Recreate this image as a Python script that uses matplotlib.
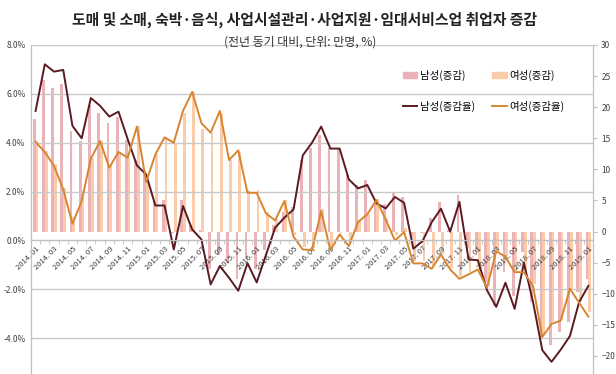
import numpy as np
import matplotlib.pyplot as plt
from matplotlib.patches import Patch
from matplotlib.lines import Line2D

plt.rcParams['font.family'] = ['Noto Sans CJK KR', 'DejaVu Sans']

# 2014.01 ~ 2019.01, monthly
months = [f"{y}. {m:02d}" for y in range(2014, 2019) for m in range(1, 13)] + ["2019. 01"]

# 증감 (만명) - right axis
male_chg = [18.1, 24.4, 23.1, 23.7, 16.1, 14.5, 20.4, 19.0, 17.5, 18.4,
            14.7, 11.5, 9.9, 5.1, 5.1, -0.3, 5.1, 1.0, 0.2, -6.0,
            -3.8, -5.0, -7.6, -4.4, -6.0, -3.0, 1.0, 3.2, 4.0, 11.5,
            13.4, 15.5, 13.4, 13.4, 9.1, 7.5, 8.3, 5.3, 4.5, 6.4,
            5.6, -1.1, -0.3, 2.1, 4.8, 0.2, 5.9, -2.7, -3.3, -8.1,
            -11.9, -6.5, -10.3, -3.3, -11.3, -17.3, -18.3, -16.2, -14.6, -9.7,
            -7.6]
female_chg = [14.5, 13.0, 10.8, 7.0, 2.3, 5.5, 11.8, 14.6, 10.5, 12.8,
              12.0, 17.0, 8.2, 12.5, 15.2, 14.3, 19.0, 22.5, 16.5, 15.8,
              19.0, 11.5, 12.8, 6.7, 6.7, 3.2, 2.0, 5.0, -0.6, -2.5,
              -2.6, 3.6, -2.6, -0.3, -1.8, 1.8, 2.9, 5.3, 2.1, -0.6,
              0.5, -4.8, -4.8, -5.6, -3.6, -5.8, -7.2, -6.5, -5.8, -8.8,
              -3.0, -3.9, -6.3, -6.3, -8.5, -16.5, -14.6, -14.2, -9.2, -11.4,
              -13.0]

# 증감율 (%) - left axis
male_rate = [5.30, 7.21, 6.91, 6.98, 4.69, 4.18, 5.83, 5.51, 5.07, 5.27,
             4.14, 3.07, 2.70, 1.43, 1.43, -0.37, 1.41, 0.45, 0.04, -1.80,
             -1.05, -1.53, -2.06, -0.93, -1.72, -0.60, 0.52, 0.93, 1.27, 3.48,
             4.00, 4.66, 3.76, 3.76, 2.50, 2.13, 2.27, 1.52, 1.31, 1.78,
             1.54, -0.34, -0.03, 0.75, 1.30, 0.36, 1.58, -0.78, -0.81, -2.04,
             -2.72, -1.73, -2.80, -0.92, -2.53, -4.49, -4.97, -4.47, -3.91, -2.52,
             -1.86]
female_rate = [4.03, 3.62, 3.05, 2.09, 0.68, 1.61, 3.35, 4.07, 2.98, 3.62,
               3.39, 4.66, 2.39, 3.52, 4.22, 4.00, 5.30, 6.08, 4.80, 4.41,
               5.30, 3.29, 3.69, 1.95, 1.95, 1.11, 0.82, 1.61, 0.15, -0.37,
               -0.40, 1.20, -0.40, 0.25, -0.23, 0.75, 1.07, 1.65, 0.86, 0.00,
               0.34, -0.94, -0.94, -1.16, -0.57, -1.19, -1.57, -1.39, -1.19, -1.94,
               -0.44, -0.67, -1.30, -1.30, -1.87, -3.95, -3.42, -3.28, -1.98, -2.55,
               -3.12]

x = np.arange(len(months))

fig = plt.figure(figsize=(6.16, 3.74), dpi=100)
# plot area runs past the bottom edge (chart is cropped there)
ax = fig.add_axes([0.0503, -0.0348, 0.9123, 0.9145])
ax2 = ax.twinx()
ax.set_zorder(ax2.get_zorder() + 1)
ax.patch.set_visible(False)

w = 0.3
ax2.bar(x - w / 2, male_chg, w, color='#EBB3B7', linewidth=0)
ax2.bar(x + w / 2, female_chg, w, color='#FBCBAA', linewidth=0)

ax.plot(x, male_rate, color='#5A1A22', lw=1.4)
ax.plot(x, female_rate, color='#D8852F', lw=1.4)

ax.set_xlim(-0.5, len(months) - 0.5)
ax.set_ylim(-6, 8)
ax2.set_ylim(-25, 30)

lticks = np.arange(-4, 8.1, 2)
ax.set_yticks(lticks)
ax.set_yticklabels([f"{v:.1f}%" for v in lticks])
ax2.set_yticks(np.arange(-20, 31, 5))
ax.yaxis.grid(True, color='#C9C9C9', lw=1)

gray = '#BFBFBF'
for a in (ax, ax2):
    a.spines['top'].set_visible(False)
    a.spines['left'].set_color(gray)
    a.spines['right'].set_color(gray)
ax.spines['bottom'].set_position(('data', 0))
ax.spines['bottom'].set_color(gray)
ax2.spines['bottom'].set_visible(False)

ax.tick_params(axis='y', length=0, labelsize=6, labelcolor='#404040', pad=4)
ax2.tick_params(axis='y', length=3, color=gray, labelsize=6, labelcolor='#404040', pad=3)

ax.set_xticks(x[::2])
ax.set_xticklabels(months[::2], rotation=45, ha='right', va='top',
                   rotation_mode='anchor', fontsize=5.5, color='#404040')
ax.set_xticks(np.arange(-0.5, len(months), 1), minor=True)
ax.tick_params(axis='x', which='major', length=0, pad=3)
ax.tick_params(axis='x', which='minor', length=3, color=gray)

handles = [Patch(color='#EBB3B7'), Line2D([], [], color='#5A1A22', lw=1.4),
           Patch(color='#FBCBAA'), Line2D([], [], color='#D8852F', lw=1.4)]
labels = ['남성(증감)', '남성(증감율)', '여성(증감)', '여성(증감율)']
ax.legend(handles, labels, ncol=2, loc='upper left', bbox_to_anchor=(0.645, 0.955),
          frameon=False, fontsize=7.5, handlelength=1.4, handleheight=0.5,
          handletextpad=0.2, columnspacing=1.7, labelspacing=1.9)

fig.text(0.495, 0.948, '도매 및 소매, 숙박·음식, 사업시설관리·사업지원·임대서비스업 취업자 증감',
         ha='center', va='center', fontsize=10.7, fontweight='bold', color='#222222')
fig.text(0.487, 0.888, '(전년 동기 대비, 단위: 만명, %)', ha='center', va='center',
         fontsize=8.6, color='#333333')

fig.savefig('out.png', dpi=100)
